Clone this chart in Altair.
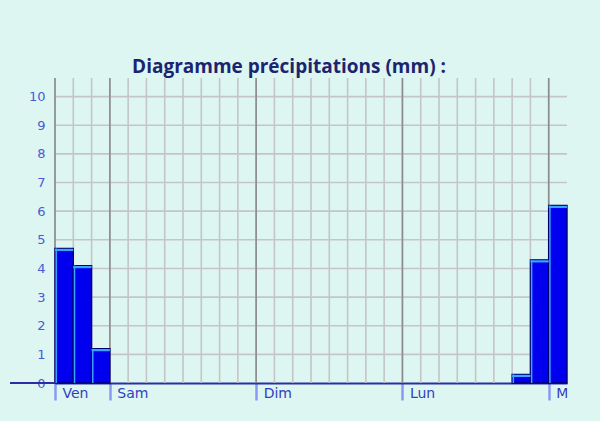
import altair as alt
import pandas as pd

# Three-hour rainfall totals (mm), one value per slot, Friday afternoon to Tuesday
slots = list(range(28))
rain = [4.7, 4.1, 1.2,
        0, 0, 0, 0, 0, 0, 0, 0,
        0, 0, 0, 0, 0, 0, 0, 0,
        0, 0, 0, 0, 0, 0, 0.3, 4.3,
        6.2]
day_names = ["Ven", "Sam", "Dim", "Lun", "Mar"]
day_starts = [0, 3, 11, 19, 27]
y_levels = [1, 2, 3, 4, 5, 6, 7, 8, 9, 10]
title_text = "Diagramme précipitations (mm) :"

W, H = 512, 305
BG = "#ddf6f1"
NAVY = "#2c2ca6"

bars = pd.DataFrame({"slot": slots, "end": [s + 1 for s in slots], "mm": rain})
bars = bars[bars["mm"] > 0]
days = pd.DataFrame({"start": day_starts, "name": day_names})
grid_x = pd.DataFrame({"slot": slots})
grid_y = pd.DataFrame({"level": y_levels})

xscale = alt.Scale(domain=[0, 28], nice=False, zero=False)
yscale = alt.Scale(domain=[0, 10.65], nice=False)

label_expr = " : ".join(
    f"datum.value == {s} ? '{n}'" for s, n in zip(day_starts, day_names)
) + " : ''"

x_axis = alt.Axis(
    values=day_starts, labelExpr=label_expr, title="", grid=False,
    domainColor=NAVY, domainWidth=2, tickColor="#8a9af0", tickWidth=2.5,
    tickSize=17, labelAlign="left", labelBaseline="top", labelPadding=-14,
    labelOffset=7, labelColor="#3240c0", labelFont="DejaVu Sans",
    labelFontSize=14, labelOverlap=False,
)
y_axis = alt.Axis(
    values=[0] + y_levels, title="", grid=False, domain=False, ticks=False,
    labelPadding=10, labelColor="#4b5ad8", labelFont="DejaVu Sans",
    labelFontSize=13, labelOverlap=False,
)

X = lambda f: alt.X(f, scale=xscale, axis=x_axis)
Y = lambda f: alt.Y(f, scale=yscale, axis=y_axis)

vgrid = alt.Chart(grid_x).mark_rule(color="#c5c5c5", strokeWidth=1.6).encode(
    x=X("slot:Q"), y=alt.value(0), y2=alt.value(H),
)
hgrid = alt.Chart(grid_y).mark_rule(color="#c5c5c5", strokeWidth=1.6).encode(
    y=Y("level:Q"), x=alt.value(0), x2=alt.value(W),
)
daylines = alt.Chart(days).mark_rule(color="#8c8c8c", strokeWidth=1.6).encode(
    x=X("start:Q"), y=alt.value(0), y2=alt.value(H),
)

rects = alt.Chart(bars).mark_rect(
    color="#0000ee", stroke="#00006e", strokeWidth=1.4
).encode(
    x=X("slot:Q"), x2="end:Q", y=Y("mm:Q"), y2=alt.datum(0),
)
top_glint = alt.Chart(bars).mark_rule(
    color="#38a6ff", strokeWidth=2.2, yOffset=1.5
).encode(
    x=X("slot:Q"), x2="end:Q", y=Y("mm:Q"),
)
left_glint = alt.Chart(bars).mark_rule(
    color="#38a6ff", strokeWidth=1.5, xOffset=1.2
).encode(
    x=X("slot:Q"), y=Y("mm:Q"), y2=alt.datum(0),
)

# baseline continues to the left under the y labels
baseline = alt.Chart(days.head(1)).mark_rule(color=NAVY, strokeWidth=2).encode(
    x=alt.value(-45), x2=alt.value(0), y=alt.datum(0, scale=yscale, axis=y_axis),
)

heading = alt.Chart(days.head(1)).mark_text(
    text=title_text, font="Open Sans", fontSize=19, fontWeight="bold",
    color="#1b2470", align="center", baseline="alphabetic",
).encode(x=alt.value(234), y=alt.value(-5))

# the last day label is cut at the chart's right edge
cover = alt.Chart(days.head(1)).mark_rect(color=BG).encode(
    x=alt.value(W + 0.5), x2=alt.value(W + 40),
    y=alt.value(H + 2), y2=alt.value(H + 36),
)

chart = alt.layer(
    vgrid, hgrid, daylines, rects, top_glint, left_glint, baseline, heading, cover
).properties(
    width=W, height=H,
    autosize=alt.AutoSizeParams(type="none"),
    padding={"left": 55, "top": 78, "right": 33, "bottom": 38},
    background=BG,
).configure_view(stroke=None)

chart.save("out.html", embed_options={"renderer": "svg", "actions": False})
